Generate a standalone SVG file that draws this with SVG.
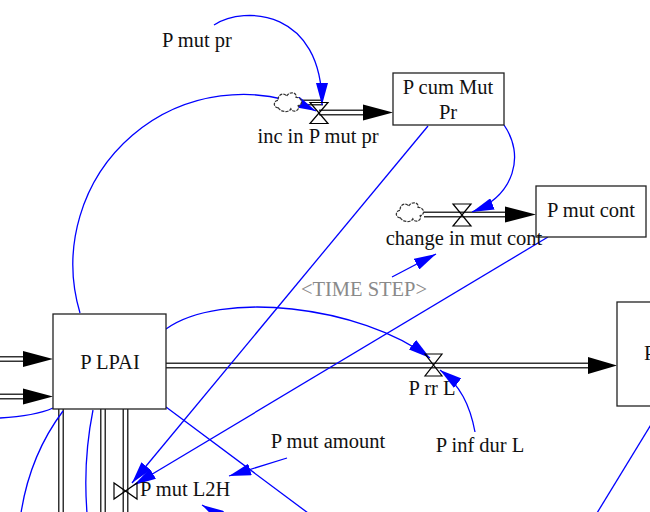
<svg xmlns="http://www.w3.org/2000/svg" width="650" height="512" viewBox="0 0 650 512">
<defs>
<style>
.box{fill:#fff;stroke:#222;stroke-width:1.3}
.t{font-family:"Liberation Serif","Times New Roman",serif;font-size:20.5px;fill:#111;text-anchor:middle}
.ts{fill:#8a8a8a}
.po{fill:none;stroke:#333;stroke-width:6}
.pi{fill:none;stroke:#fff;stroke-width:3}
.ah{fill:#000}
.lk{fill:none;stroke:#0000ff;stroke-width:1.3}
.vl{fill:none;stroke:#000;stroke-width:1.2}
.cl{fill:#fff;stroke:#333;stroke-width:1.2;stroke-dasharray:3 1}
</style>
<marker id="ar" viewBox="0 0 22 12" refX="22" refY="6" markerWidth="22" markerHeight="12" markerUnits="userSpaceOnUse" orient="auto"><path d="M0,0 L22,6 L0,12 Z" fill="#0000ff"/></marker>
<path id="cloud" d="M5,16 C0,16 0,9 5,9 C4,3 11,1 13,5 C15,0 23,1 22,6 C28,6 29,13 24,14 C26,19 19,21 17,17 C15,21 7,20 5,16 Z"/>
</defs>
<rect width="650" height="512" fill="#fff"/>
<g id="connectors">
  <g id="flows">
    <path class="po" d="M0,359 H26 M0,396.5 H26 M166,365.5 H591 M61,409 V512 M103,409 V512 M125.5,409 V512 M302,102.5 H323 M319,112.5 H366 M424,214.5 H508"/>
    <path class="pi" d="M0,359 H26 M0,396.5 H26 M166,365.5 H591 M61,409 V512 M103,409 V512 M125.5,409 V512 M302,102.5 H323 M319,112.5 H366 M424,214.5 H508"/>
    <polygon class="ah" points="23,351 53,359 23,367"/>
    <polygon class="ah" points="23,388.5 53,396.5 23,404.5"/>
    <polygon class="ah" points="588,357 617,365.5 588,374"/>
    <polygon class="ah" points="363,104.5 393,112.5 363,120.5"/>
    <polygon class="ah" points="505,206.5 536,214.5 505,222.5"/>
  </g>
  <g id="links">
    <path class="lk" marker-end="url(#ar)" d="M214,25 C245,5 322,10 322,105"/>
    <path class="lk" marker-end="url(#ar)" d="M80,313 A170,170 0 0 1 316,111"/>
    <path class="lk" marker-end="url(#ar)" d="M504,125 C525,155 515,195 472,212"/>
    <path class="lk" marker-end="url(#ar)" d="M166,329 C220,290 360,305 430,358"/>
    <path class="lk" marker-end="url(#ar)" d="M475,432 C470,405 460,385 440,370"/>
    <path class="lk" marker-end="url(#ar)" d="M392,277 L436,254"/>
    <path class="lk" marker-end="url(#ar)" d="M287,458 L229,476"/>
    <path class="lk" marker-end="url(#ar)" d="M428,126 L132,483"/>
    <path class="lk" marker-end="url(#ar)" d="M548,237 L134,485"/>
    <path class="lk" marker-end="url(#ar)" d="M236,525 L202,505"/>
    <path class="lk" d="M166,407 L308,513"/>
    <path class="lk" d="M652,423 L597,513"/>
    <path class="lk" d="M53,408 Q35,416 0,418"/>
    <path class="lk" d="M63,411 Q30,455 21,513"/>
    <path class="lk" d="M93,410 C87,440 84,475 87,513"/>
  </g>
</g>
<g id="cloud_inc"><use href="#cloud" class="cl" transform="translate(273,91) scale(1.05)"/></g>
<g id="cloud_change"><use href="#cloud" class="cl" transform="translate(395,201) scale(1.05)"/></g>
<g id="P_LPAI">
  <rect class="box" x="53" y="314" width="113" height="95"/>
  <text class="t" x="110" y="369">P LPAI</text>
</g>
<g id="P_cum_Mut_Pr">
  <rect class="box" x="393" y="73" width="111" height="52"/>
  <text class="t" x="448" y="94">P cum Mut</text>
  <text class="t" x="448" y="119">Pr</text>
</g>
<g id="P_mut_cont">
  <rect class="box" x="536" y="186" width="110" height="51"/>
  <text class="t" x="591" y="217">P mut cont</text>
</g>
<g id="right_stock">
  <rect class="box" x="617" y="302" width="60" height="104"/>
  <text class="t" x="644" y="360" style="text-anchor:start">P</text>
</g>
<g id="P_mut_pr"><text class="t" x="197" y="47">P mut pr</text></g>
<g id="inc_in_P_mut_pr">
  <path class="vl" d="M310,102.5 H328 L310,123.5 H328 Z"/>
  <text class="t" x="318" y="143">inc in P mut pr</text>
</g>
<g id="change_in_mut_cont">
  <path class="vl" d="M453,204 H471 L453,226 H471 Z"/>
  <text class="t" x="464" y="245">change in mut cont</text>
</g>
<g id="TIME_STEP"><text class="t ts" x="364" y="296">&lt;TIME STEP&gt;</text></g>
<g id="P_rr_L">
  <path class="vl" d="M425,354 H442 L425,376 H442 Z"/>
  <text class="t" x="432" y="395">P rr L</text>
</g>
<g id="P_inf_dur_L"><text class="t" x="480" y="452">P inf dur L</text></g>
<g id="P_mut_amount"><text class="t" x="328" y="448">P mut amount</text></g>
<g id="P_mut_L2H">
  <path class="vl" d="M114,483 V499 L137,483 V499 Z"/>
  <text class="t" x="140" y="496" style="text-anchor:start">P mut L2H</text>
</g>
</svg>
